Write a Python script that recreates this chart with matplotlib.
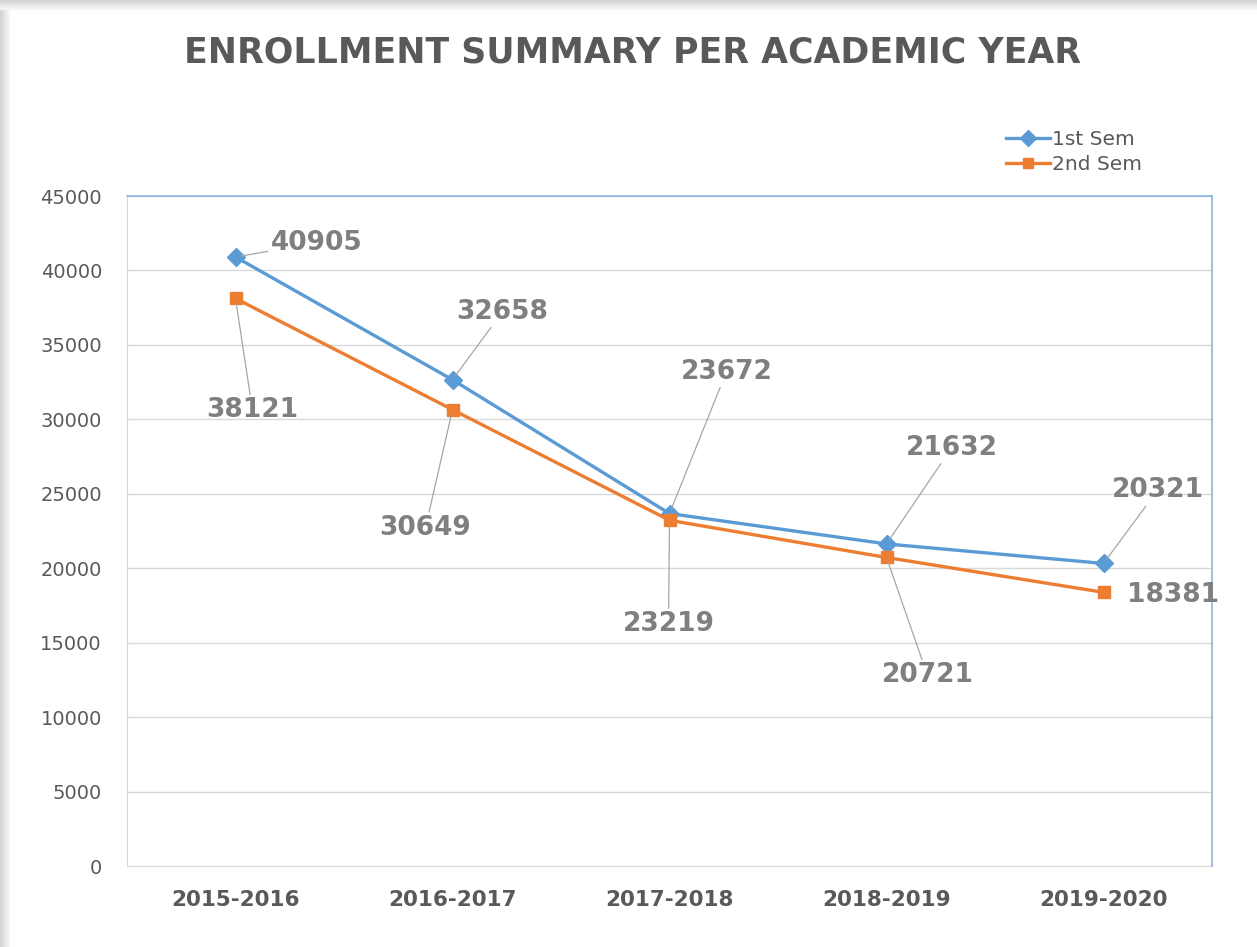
import numpy as np
import matplotlib.pyplot as plt
from matplotlib.patches import Rectangle

plt.rcParams['font.family'] = ['DejaVu Sans']

# data
years = ['2015-2016', '2016-2017', '2017-2018', '2018-2019', '2019-2020']
sem1 = [40905, 32658, 23672, 21632, 20321]
sem2 = [38121, 30649, 23219, 20721, 18381]

# label offsets in pixels (dx, dy) from each point
off1 = [(81, 14), (50, 68), (57, 142), (65, 96), (54, 73)]
off2 = [(17, -112), (-27, -118), (-1, -104), (41, -118), (70, -3)]
leader2 = [True, True, True, True, False]

blue = '#5b9bd5'
orange = '#ed7d31'
label_grey = '#7f7f7f'
text_grey = '#595959'

W, H = 1257, 947
fig = plt.figure(figsize=(W / 100, H / 100), dpi=100)

# soft shadow along the top and left edges of the card
for i, c in enumerate(['#d4d4d4', '#dedede', '#e6e6e6', '#eeeeee', '#f4f4f4']):
    fig.patches.append(Rectangle((0, 1 - (i + 1) * 2 / H), 1, 2 / H, transform=fig.transFigure,
                                 color=c, lw=0, zorder=0))
    fig.patches.append(Rectangle((i * 2 / W, 0), 2 / W, 1 - 10 / H, transform=fig.transFigure,
                                 color=c, lw=0, zorder=0))

ax = fig.add_axes([127 / W, 1 - 866 / H, (1212 - 127) / W, (866 - 196) / H])

x = np.arange(len(years))
ax.plot(x, sem1, color=blue, lw=2.4, marker='D', ms=9, label='1st Sem', zorder=3)
ax.plot(x, sem2, color=orange, lw=2.4, marker='s', ms=9, label='2nd Sem', zorder=3)

def label(xi, yi, off, leader):
    props = dict(arrowstyle='-', color='#a6a6a6', lw=0.9, shrinkA=0, shrinkB=4) if leader else None
    ax.annotate(str(yi), (xi, yi), xytext=off, textcoords='offset pixels',
                ha='center', va='center', fontsize=19, fontweight='bold',
                color=label_grey, arrowprops=props, zorder=4)

for i in range(len(years)):
    label(x[i], sem1[i], off1[i], True)
    label(x[i], sem2[i], off2[i], leader2[i])

ax.set_xlim(-0.5, len(years) - 0.5)
ax.set_ylim(0, 45000)
ax.set_yticks(np.arange(0, 45001, 5000))
ax.set_xticks(x)
ax.set_xticklabels(years, fontsize=15.5, fontweight='bold', color=text_grey)
ax.tick_params(axis='y', length=0, pad=18, labelsize=14, labelcolor=text_grey)
ax.tick_params(axis='x', length=0, pad=17)

ax.grid(axis='y', color='#d9d9d9', lw=1)
ax.set_axisbelow(True)
for s in ['left', 'bottom']:
    ax.spines[s].set_color('#d9d9d9')
for s in ['top', 'right']:
    ax.spines[s].set_color('#7fb0de')
    ax.spines[s].set_linewidth(1.1)
ax.spines['bottom'].set_zorder(0)

fig.text(0.503, 0.945, 'ENROLLMENT SUMMARY PER ACADEMIC YEAR', ha='center', va='center',
         fontsize=25, fontweight='bold', color=text_grey)

ax.legend(loc='upper right', bbox_to_anchor=(1150 / W, 1 - 122 / H),
          bbox_transform=fig.transFigure, frameon=False, fontsize=14.5,
          labelcolor=text_grey, handlelength=2.2, handletextpad=0.1,
          borderaxespad=0, labelspacing=0.3, markerscale=0.85)

fig.savefig('out.png', dpi=100)
